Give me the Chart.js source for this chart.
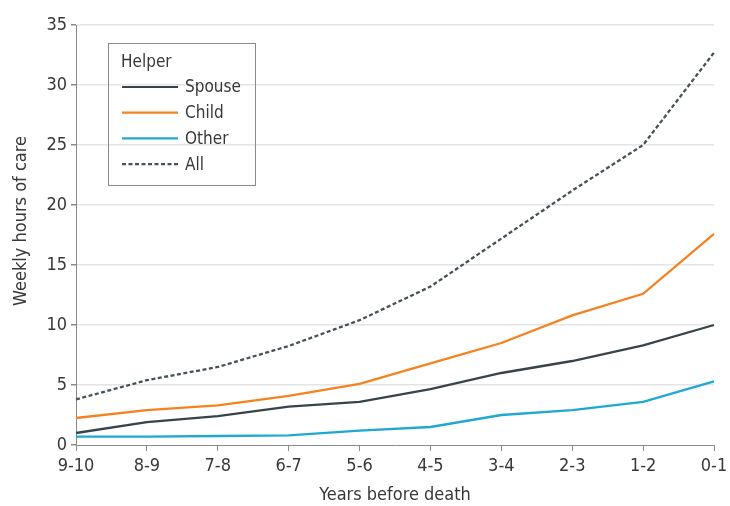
<!DOCTYPE html>
<html>
<head>
<meta charset="utf-8">
<script src="https://cdn.jsdelivr.net/npm/chart.js@4/dist/chart.umd.min.js"></script>
<style>
html,body{margin:0;padding:0;background:#fff;}
#wrap{width:730px;height:506px;position:relative;}
</style>
</head>
<body>
<div id="wrap"><canvas id="c" width="730" height="506"></canvas></div>
<script>
const categories = ["9-10","8-9","7-8","6-7","5-6","4-5","3-4","2-3","1-2","0-1"];
const spouse = [1.0, 1.9, 2.4, 3.2, 3.6, 4.65, 6.0, 7.0, 8.3, 10.0];
const child  = [2.25, 2.9, 3.3, 4.1, 5.1, 6.8, 8.5, 10.8, 12.6, 17.6];
const other  = [0.7, 0.7, 0.75, 0.8, 1.2, 1.5, 2.5, 2.9, 3.6, 5.3];
const all    = [3.8, 5.4, 6.5, 8.25, 10.4, 13.2, 17.2, 21.2, 25.0, 32.7];
const yTicks = [0,5,10,15,20,25,30,35];
const legendTitle = "Helper";
const xTitle = "Years before death";
const yTitle = "Weekly hours of care";

const FONT = "'DejaVu Sans Condensed','DejaVu Sans',sans-serif";
const TXT = '#383838';
const FS = 18;

const legendPlugin = {
  id: 'boxLegend',
  afterDraw(chart) {
    const ctx = chart.ctx;
    const ca = chart.chartArea;
    const x0 = ca.left + 32, y0 = ca.top + 18, w = 147, h = 142;
    ctx.save();
    ctx.strokeStyle = '#8a8a8a';
    ctx.lineWidth = 1;
    ctx.strokeRect(x0 + 0.5, y0 + 0.5, w, h);
    ctx.fillStyle = TXT;
    ctx.font = "17px " + FONT;
    ctx.textBaseline = 'middle';
    ctx.textAlign = 'left';
    ctx.fillText(legendTitle, x0 + 13, y0 + 20);
    chart.data.datasets.forEach((ds, i) => {
      const yy = y0 + 44 + i * 25.7;
      ctx.beginPath();
      ctx.setLineDash(ds.borderDash || []);
      ctx.strokeStyle = ds.borderColor;
      ctx.lineWidth = 2.2;
      ctx.moveTo(x0 + 14, yy);
      ctx.lineTo(x0 + 70, yy);
      ctx.stroke();
      ctx.setLineDash([]);
      ctx.fillStyle = TXT;
      ctx.fillText(ds.label, x0 + 77, yy + 1);
    });
    // y axis title
    ctx.save();
    ctx.translate(21, 221);
    ctx.rotate(-Math.PI / 2);
    ctx.font = FS + "px " + FONT;
    ctx.textAlign = 'center';
    ctx.textBaseline = 'middle';
    ctx.fillStyle = TXT;
    ctx.fillText(yTitle, 0, 0);
    ctx.restore();
    ctx.restore();
  }
};

new Chart(document.getElementById('c'), {
  type: 'line',
  data: {
    labels: categories,
    datasets: [
      {label: 'Spouse', data: spouse, borderColor: '#37444a', borderWidth: 2.3, pointRadius: 0, tension: 0, fill: false},
      {label: 'Child', data: child, borderColor: '#f5821f', borderWidth: 2.3, pointRadius: 0, tension: 0, fill: false},
      {label: 'Other', data: other, borderColor: '#1fa8d4', borderWidth: 2.3, pointRadius: 0, tension: 0, fill: false},
      {label: 'All', data: all, borderColor: '#455258', borderWidth: 2.3, borderDash: [4,2.5], pointRadius: 0, tension: 0, fill: false}
    ]
  },
  options: {
    responsive: false,
    animation: false,
    devicePixelRatio: 1,
    layout: {padding: {left: 0, right: 16, top: 25, bottom: 0}},
    plugins: {legend: {display: false}, tooltip: {enabled: false}},
    scales: {
      x: {
        offset: false,
        grid: {display: true, drawOnChartArea: false, drawTicks: true, tickLength: 6, color: '#8a8a8a'},
        border: {display: true, color: '#8a8a8a', width: 1},
        ticks: {color: TXT, font: {family: FONT, size: FS}, padding: 5, maxRotation: 0, autoSkip: false},
        title: {display: true, text: xTitle, color: TXT, font: {family: FONT, size: FS}, padding: {top: 7, bottom: 0}},
        afterFit(s) { s.height = 61; s.paddingRight = 0; s.paddingLeft = 0; }
      },
      y: {
        min: 0, max: 35,
        afterBuildTicks(s) { s.ticks = yTicks.map(v => ({value: v})); },
        grid: {
          color: (c) => c.tick && c.tick.value === 0 ? 'rgba(0,0,0,0)' : '#e4e4e4',
          tickColor: '#8a8a8a', tickLength: 5, lineWidth: 1.5
        },
        border: {display: true, color: '#8a8a8a', width: 1},
        ticks: {color: TXT, font: {family: FONT, size: FS}, padding: 4},
        title: {display: false},
        afterFit(s) { s.width = 76; }
      }
    }
  },
  plugins: [legendPlugin]
});
</script>
</body>
</html>
